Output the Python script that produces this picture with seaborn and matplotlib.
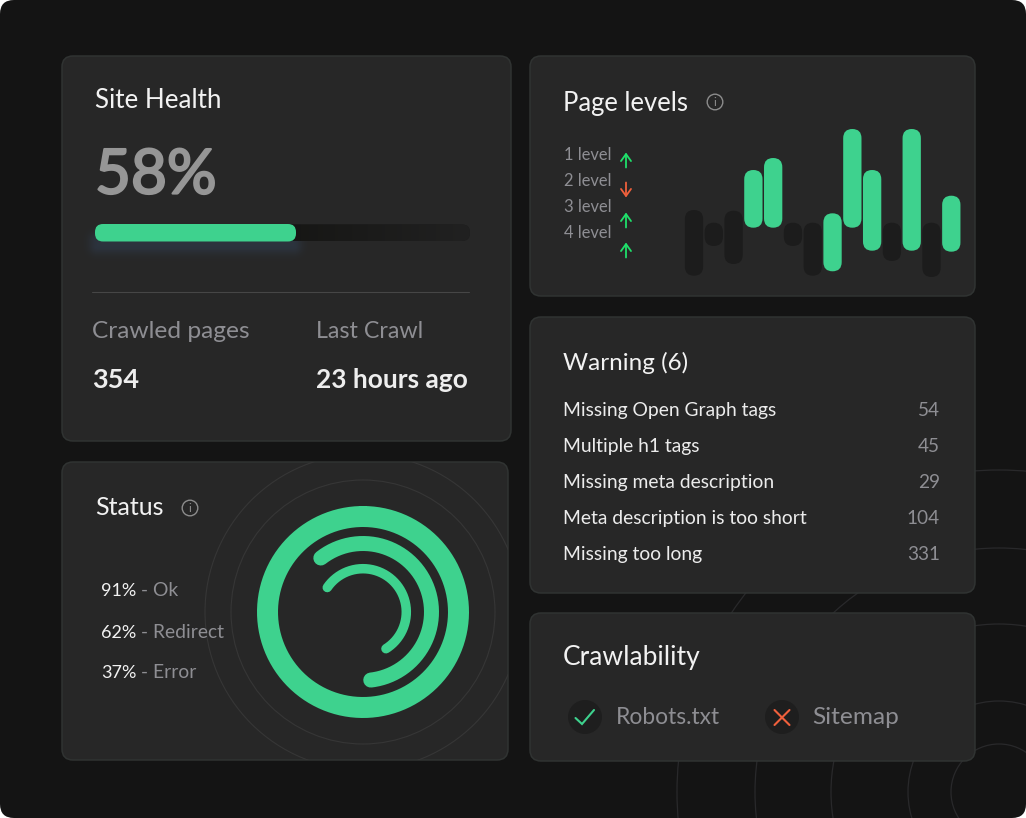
import numpy as np
import pandas as pd
import matplotlib
matplotlib.use("Agg")
import matplotlib.pyplot as plt
import matplotlib.patheffects as pe
from matplotlib.patches import FancyBboxPatch, Circle
import seaborn as sns

# ---- data ----
health_label = "58%"
health_bar_pct = 53.6
crawled_pages = "354"
last_crawl = "23 hours ago"

level_labels = ["1 level", "2 level", "3 level", "4 level"]
level_arrows = ["up", "down", "up", "up"]

bar_ids = list(range(14))
bar_low = [1.3, 31, 13, 49.3, 49.3, 31, 1.3, 5.7, 49.3, 26.3, 16, 26.3, 0, 25.3]
bar_high = [67, 54.3, 66.3, 107, 119, 54.3, 54.3, 63.7, 148, 107, 54.3, 148, 54.3, 81.3]
bar_state = ["off", "off", "off", "on", "on", "off", "off", "on", "on", "on", "off", "on", "off", "on"]

warning_names = ["Missing Open Graph tags", "Multiple h1 tags", "Missing meta description",
                 "Meta description is too short", "Missing too long"]
warning_counts = [54, 45, 29, 104, 331]

status_pct = ["91%", "62%", "37%"]
status_names = [" - Ok", " - Redirect", " - Error"]
ring_start_deg = [90, 128, 145.6]
ring_sweep_deg = [360, 211.5, 203.6]
ring_radius = [95.5, 68.5, 43.3]
ring_width_px = [21, 15, 9.5]

crawl_items = ["Robots.txt", "Sitemap"]
crawl_ok = [True, False]

# ---- style ----
GREEN = "#3ed28e"
BG = "#141414"
PANEL = "#272727"
EDGE = "#303332"
WHITE = "#f2f2f2"
GRAY = "#8e8e93"
FONT = "Lato"
PX = 0.72  # points per pixel at 100 dpi

sns.set_theme(style="white")
plt.rcParams["font.family"] = [FONT, "DejaVu Sans"]

W, H = 1026, 818
fig = plt.figure(figsize=(W / 100, H / 100), dpi=100, facecolor="white")
ax = fig.add_axes([0, 0, 1, 1])
ax.set_xlim(0, W)
ax.set_ylim(H, 0)
ax.axis("off")


def rbox(x0, y0, x1, y1, r, **kw):
    p = FancyBboxPatch((x0, y0), x1 - x0, y1 - y0,
                       boxstyle=f"round,pad=0,rounding_size={r}", **kw)
    ax.add_patch(p)
    return p


def txt(x, y, s, size, color, weight="normal", ha="left"):
    return ax.text(x, y + 1.5, s, fontsize=size * PX, color=color, weight=weight,
                   ha=ha, va="center", family=[FONT, "DejaVu Sans"], zorder=5)


# background with rounded corners and decorative circles
bg = rbox(0, 0, W, H, 14, fc=BG, ec="none", zorder=0)
for r in [48, 91, 168, 244, 322]:
    c = Circle((999, 792), r, fc="none", ec="#29292b", lw=0.9, zorder=0.5)
    ax.add_patch(c)
    c.set_clip_path(bg)

# panels
panels = {
    "health": (62, 56, 511, 441),
    "status": (62, 462, 508, 760),
    "levels": (530, 56, 975, 296),
    "warning": (530, 317, 975, 593),
    "crawl": (530, 613, 975, 761),
}
patches = {}
for k, (x0, y0, x1, y1) in panels.items():
    patches[k] = rbox(x0, y0, x1, y1, 11, fc=PANEL, ec=EDGE, lw=1.1, zorder=1)

# ---- Site health ----
txt(95, 99, "Site Health", 26, WHITE)
big = txt(95, 174.5, health_label, 62, "#969696")
big.set_path_effects([pe.withStroke(linewidth=1.6, foreground="#969696")])

# glow under progress bar
gx, gy = np.meshgrid(np.linspace(60, 340, 280), np.linspace(215, 270, 55))
dx = np.clip(np.maximum(97 - gx, gx - 294), 0, None)
dy = np.clip(np.abs(gy - 243) - 3, 0, None)
a = np.exp(-(dx ** 2 + dy ** 2) / (2 * 6.0 ** 2)) * 0.42
rgba = np.zeros(a.shape + (4,))
rgba[..., :3] = matplotlib.colors.to_rgb("#33445c")
rgba[..., 3] = a
ax.imshow(rgba, extent=(60, 340, 270, 215), aspect="auto", zorder=1.5, interpolation="bilinear")

# track with gradient
track = rbox(95, 224.5, 470, 241, 8, fc="#1b1b1b", ec="none", zorder=2)
grad = np.linspace(0, 1, 256)[None, :]
cols = np.zeros((1, 256, 3))
c0 = np.array(matplotlib.colors.to_rgb("#141412"))
c1 = np.array(matplotlib.colors.to_rgb("#212121"))
cols[0] = c0[None, :] * (1 - grad.T) + c1[None, :] * grad.T
im = ax.imshow(cols, extent=(250, 470, 241, 224.5), aspect="auto", zorder=2.1)
im.set_clip_path(track)

bar_x1 = 95 + 375 * health_bar_pct / 100
rbox(95, 224, bar_x1, 241.5, 8, fc=GREEN, ec="none", zorder=3)

ax.plot([92, 469], [292, 292], color="#464646", lw=0.8, zorder=2)
txt(92, 330.5, "Crawled pages", 24.5, GRAY)
txt(316, 330.5, "Last Crawl", 23.3, GRAY)
txt(92, 378.5, crawled_pages, 27, "#eeeeee", "bold")
txt(316, 378.5, last_crawl, 26.3, "#eeeeee", "bold")

# ---- Status ----
txt(95, 506, "Status", 25, WHITE)


def info(cx, cy):
    ax.add_patch(Circle((cx, cy), 7.8, fc="none", ec="#8c8c8c", lw=1.0, zorder=5))
    ax.text(cx, cy + 0.3, "i", fontsize=9 * PX * 1.3, color="#8c8c8c", ha="center", va="center",
            zorder=5, family=[FONT, "DejaVu Sans"])


info(190, 508)

for r in [132, 158]:
    c = Circle((363, 612), r, fc="none", ec="#363636", lw=0.8, zorder=1.5)
    ax.add_patch(c)
    c.set_clip_path(patches["status"])

fig.canvas.draw()
rend = fig.canvas.get_renderer()
for y, pct, nm in zip([596.5, 637.5, 678.5], status_pct, status_names):
    t = txt(101, y, pct, 18, WHITE)
    t.set_va("baseline")
    t.set_y(y)
    bb = t.get_window_extent(rend)
    x2 = ax.transData.inverted().transform((bb.x1, bb.y0))[0]
    t2 = txt(x2, y, nm, 19.3, GRAY)
    t2.set_va("baseline")
    t2.set_y(y)

# ring gauge: polar inset centred on (363, 612), 1 radial unit = 1 px
Rmax = 120
pax = fig.add_axes([(363 - Rmax) / W, 1 - (612 + Rmax) / H, 2 * Rmax / W, 2 * Rmax / H],
                   projection="polar", facecolor="none")
pax.set_rlim(0, Rmax)
pax.axis("off")
for start, sweep, rad, wpx in zip(ring_start_deg, ring_sweep_deg, ring_radius, ring_width_px):
    th = np.radians(np.linspace(start, start - sweep, 240))
    pax.plot(th, np.full_like(th, rad), color=GREEN, lw=wpx * PX, solid_capstyle="round")

# ---- Page levels ----
txt(563, 102, "Page levels", 25.6, WHITE)
info(715, 102)
for y, lab in zip([155, 181, 206, 232], level_labels):
    txt(612, y - 1, lab, 16.5, GRAY, ha="right")
for y, d in zip([160, 190, 220, 250], level_arrows):
    col = "#1fe06a" if d == "up" else "#f0603c"
    y0, y1 = (y + 7.5, y - 7.5) if d == "up" else (y - 7.5, y + 7.5)
    ax.annotate("", xy=(626, y1), xytext=(626, y0), zorder=5,
                arrowprops=dict(arrowstyle="->,head_length=0.42,head_width=0.3", color=col, lw=1.3,
                                shrinkA=0, shrinkB=0))

# floating, rounded bars through seaborn
x0_px, x1_px = 684.1, 961.2
y0_px, y1_px = 127, 277
bax = fig.add_axes([x0_px / W, 1 - y1_px / H, (x1_px - x0_px) / W, (y1_px - y0_px) / H], facecolor="none")
df = pd.DataFrame({"bar": bar_ids, "low": bar_low, "high": bar_high, "state": bar_state})
df["span"] = df["high"] - df["low"]
sns.barplot(data=df, x="bar", y="span", hue="state", saturation=1,
            palette={"on": GREEN, "off": "#1c1c1c"}, dodge=False, width=0.925,
            legend=False, ax=bax, order=bar_ids)
bax.set_xlim(-0.5, 13.5)
bax.set_ylim(0, 150)
bax.axis("off")
x_scale = (x1_px - x0_px) / 14
rects = [p for p in bax.patches if p.get_height() > 0]
for rect in list(bax.patches):
    rect.remove()
for rect in rects:
    i = int(round(rect.get_x() + rect.get_width() / 2))
    p = FancyBboxPatch((rect.get_x(), df["low"][i]), rect.get_width(), rect.get_height(),
                       boxstyle=f"round,pad=0,rounding_size={rect.get_width() / 2}",
                       mutation_aspect=x_scale, fc=rect.get_facecolor(), ec="none", zorder=2 + i * 0.01)
    bax.add_patch(p)

# ---- Warning ----
txt(563, 361, "Warning (6)", 24.2, WHITE)
for y, nm, v in zip([409, 445, 481, 517, 553], warning_names, warning_counts):
    txt(563, y, nm, 19.3, "#ececec")
    txt(940, y, str(v), 19, GRAY, ha="right")

# ---- Crawlability ----
txt(563, 656, "Crawlability", 26.4, WHITE)
for cx, tx, lab, ok, sz in zip([585, 782], [616, 812], crawl_items, crawl_ok, [22.7, 24.4]):
    ax.add_patch(Circle((cx, 717), 17, fc="#1e1e1e", ec="none", zorder=2))
    if ok:
        ax.plot([cx - 9.5, cx - 3, cx + 9], [718, 724, 710], color=GREEN, lw=1.5, zorder=3,
                solid_capstyle="round", solid_joinstyle="miter")
    else:
        ax.plot([cx - 7.5, cx + 7.5], [710, 725], color="#f0603c", lw=1.5, zorder=3)
        ax.plot([cx - 7.5, cx + 7.5], [725, 710], color="#f0603c", lw=1.5, zorder=3)
    txt(tx, 716, lab, sz, GRAY)

ax.set_xlim(0, W)
ax.set_ylim(H, 0)
fig.savefig("out.png", dpi=100, facecolor="white")
